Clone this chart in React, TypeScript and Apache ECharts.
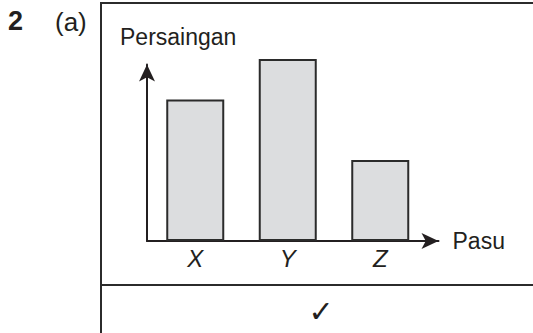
import React, { useEffect, useRef } from "react";
import * as echarts from "echarts";

const categories = ["X", "Y", "Z"];
const values = [7, 9, 4];
const yAxisName = "Persaingan";
const xAxisName = "Pasu";
const questionNo = "2";
const partLabel = "(a)";
const answerMark = "✓";

const INK = "#231f20";
const FONT = "'Liberation Sans', Arial, sans-serif";

export default function App() {
  const ref = useRef<HTMLDivElement>(null);
  useEffect(() => {
    if (!ref.current) return;
    const chart = echarts.init(ref.current, undefined, { renderer: "svg" });
    chart.setOption({
      animation: false,
      backgroundColor: "#ffffff",
      textStyle: { fontFamily: FONT },
      grid: [
        { left: 149, right: 106.5, top: 59, bottom: 92 },
        { left: 147, right: 94.5, top: 64.5, bottom: 92 },
      ],
      xAxis: [
        {
          type: "category",
          gridIndex: 0,
          data: categories,
          axisLine: { show: false },
          axisTick: { show: false },
          axisLabel: {
            margin: 5,
            fontSize: 24,
            fontStyle: "italic",
            color: INK,
            fontFamily: FONT,
          },
          splitLine: { show: false },
        },
        {
          type: "value",
          gridIndex: 1,
          min: 0,
          max: 1,
          name: xAxisName,
          nameLocation: "end",
          nameGap: 14,
          nameTextStyle: { fontSize: 23, color: INK, fontFamily: FONT, verticalAlign: "middle" },
          axisLine: {
            show: true,
            symbol: ["none", "arrow"],
            symbolSize: [12, 17],
            lineStyle: { color: INK, width: 2 },
          },
          axisTick: { show: false },
          axisLabel: { show: false },
          splitLine: { show: false },
        },
      ],
      yAxis: [
        { type: "value", gridIndex: 0, min: 0, max: 9, show: false, splitLine: { show: false } },
        {
          type: "value",
          gridIndex: 1,
          min: 0,
          max: 1,
          axisLine: {
            show: true,
            symbol: ["none", "arrow"],
            symbolSize: [12, 17],
            lineStyle: { color: INK, width: 2 },
          },
          axisTick: { show: false },
          axisLabel: { show: false },
          splitLine: { show: false },
        },
      ],
      series: [
        {
          type: "bar",
          xAxisIndex: 0,
          yAxisIndex: 0,
          data: values,
          barWidth: 58,
          itemStyle: { color: "#dcdddf", borderColor: "#2b2b2b", borderWidth: 2 },
          z: 1,
        },
      ],
      graphic: [
        { type: "line", shape: { x1: 101, y1: 3, x2: 101, y2: 333 }, style: { stroke: "#2b2b2b", lineWidth: 2 } },
        { type: "line", shape: { x1: 100, y1: 3, x2: 533, y2: 3 }, style: { stroke: "#2b2b2b", lineWidth: 2 } },
        { type: "line", shape: { x1: 101, y1: 285, x2: 533, y2: 285 }, style: { stroke: "#2b2b2b", lineWidth: 2 } },
        {
          type: "text",
          x: 8,
          y: 21,
          style: { text: questionNo, fontSize: 27, fontWeight: "bold", fontFamily: FONT, fill: INK, verticalAlign: "middle", align: "left" },
        },
        {
          type: "text",
          x: 55,
          y: 22,
          style: { text: partLabel, fontSize: 26, fontFamily: FONT, fill: INK, verticalAlign: "middle", align: "left" },
        },
        {
          type: "text",
          x: 120,
          y: 37,
          style: { text: yAxisName, fontSize: 23, fontFamily: FONT, fill: INK, verticalAlign: "middle", align: "left" },
        },
        {
          type: "text",
          x: 321,
          y: 311,
          style: { text: answerMark, fontSize: 30, fontWeight: "bold", fontFamily: "'DejaVu Sans', sans-serif", fill: INK, verticalAlign: "middle", align: "center" },
        },
      ],
    });
    return () => chart.dispose();
  }, []);
  return (
    <div
      ref={ref}
      style={{ position: "fixed", left: 0, top: 0, width: 533, height: 333 }}
    />
  );
}
